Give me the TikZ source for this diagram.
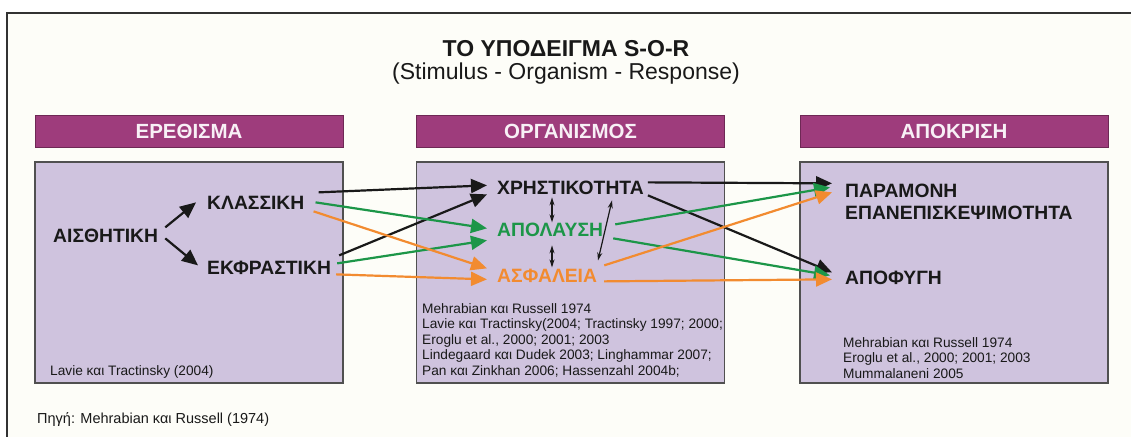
\documentclass[tikz,border=0pt]{standalone}
\usepackage{fontspec}
\setmainfont{Liberation Sans}
\usetikzlibrary{arrows.meta,calc}

\definecolor{paper}{RGB}{253,253,248}
\definecolor{frameline}{RGB}{50,50,50}
\definecolor{plum}{RGB}{158,60,124}
\definecolor{plumdark}{RGB}{110,40,85}
\definecolor{barwhite}{RGB}{248,240,246}
\definecolor{lav}{RGB}{207,195,222}
\definecolor{edge}{RGB}{80,80,80}
\definecolor{ink}{RGB}{25,25,25}
\definecolor{leaf}{RGB}{28,150,72}
\definecolor{amber}{RGB}{242,139,48}

\begin{document}
\begin{tikzpicture}[x=1pt,y=-1pt,
  hdr/.style={fill=plum, draw=plumdark, line width=0.8pt, minimum width=308pt,
    minimum height=32pt, inner sep=0pt, text=barwhite,
    font=\fontsize{20.5pt}{24pt}\selectfont\bfseries},
  panel/.style={fill=lav, draw=edge, line width=1.3pt, minimum width=308pt,
    minimum height=221pt, inner sep=0pt},
  term/.style={inner sep=0pt, anchor=base west, text=ink,
    font=\fontsize{19.3pt}{23pt}\selectfont\bfseries},
  cite/.style={inner sep=0pt, align=left, text=ink,
    font=\fontsize{13.7pt}{15.5pt}\selectfont},
  link/.style={line width=2.2pt, -{Triangle[length=16pt,width=14pt]}},
  twoway/.style={line width=1.2pt, draw=ink,
    {Stealth[length=8pt,width=5pt]}-{Stealth[length=8pt,width=5pt]}}
]
\useasboundingbox (0,0) rectangle (1131,437);
\fill[white] (0,0) rectangle (1131,437);
\fill[paper] (7,13) rectangle (1131,437);
\draw[frameline, line width=2.6pt] (1131,13) -- (7,13) -- (7,437);

% title
\node[anchor=base, text=ink, font=\fontsize{23pt}{27pt}\selectfont\bfseries]
  (title) at (566,56) {ΤΟ ΥΠΟΔΕΙΓΜΑ S-O-R};
\node[anchor=base, text=ink, font=\fontsize{23pt}{27pt}\selectfont]
  (subtitle) at (566,79) {(Stimulus - Organism - Response)};

% column headers and panels
\node[hdr] (hS) at (189,131) {ΕΡΕΘΙΣΜΑ};
\node[hdr] (hO) at (570.5,131) {ΟΡΓΑΝΙΣΜΟΣ};
\node[hdr] (hR) at (954,131) {ΑΠΟΚΡΙΣΗ};
\node[panel] (pS) at (189,272.5) {};
\node[panel] (pO) at (570.5,272.5) {};
\node[panel] (pR) at (954,272.5) {};

% terms
\node[term] (aisth) at (53,242) {ΑΙΣΘΗΤΙΚΗ};
\node[term] (klas) at (207,209) {ΚΛΑΣΣΙΚΗ};
\node[term] (ekfr) at (207,274) {ΕΚΦΡΑΣΤΙΚΗ};
\node[term] (xrist) at (497,194) {ΧΡΗΣΤΙΚΟΤΗΤΑ};
\node[term, text=leaf] (apol) at (497,236) {ΑΠΟΛΑΥΣΗ};
\node[term, text=amber] (asfal) at (497,282) {ΑΣΦΑΛΕΙΑ};
\node[term] (param) at (845,197) {ΠΑΡΑΜΟΝΗ};
\node[term] (epan) at (845,219) {ΕΠΑΝΕΠΙΣΚΕΨΙΜΟΤΗΤΑ};
\node[term] (apof) at (845,284) {ΑΠΟΦΥΓΗ};

% references
\node[cite, anchor=base west] (refS) at (50,375) {Lavie και Tractinsky (2004)};
\node[cite, anchor=north west] (refO) at (422,303.2) {Mehrabian και Russell 1974\\
  Lavie και Tractinsky(2004; Tractinsky 1997; 2000;\\
  Eroglu et al., 2000; 2001; 2003\\
  Lindegaard και Dudek 2003; Linghammar 2007;\\
  Pan και Zinkhan 2006; Hassenzahl 2004b;};
\node[cite, anchor=north west] (refR) at (843,337.2) {Mehrabian και Russell 1974\\
  Eroglu et al., 2000; 2001; 2003\\
  Mummalaneni 2005};
\node[cite, anchor=base west, font=\fontsize{14.5pt}{17pt}\selectfont]
  (source) at (37,423) {Πηγή: Mehrabian και Russell (1974)};

% stimulus branches
\draw[link, ink] ($(aisth.east)+(7,-8)$) -- ($(klas.west)+(-11,0)$);
\draw[link, ink] ($(aisth.east)+(7,3)$) -- ($(ekfr.west)+(-9,-2)$);

% stimulus -> organism
\draw[link, ink] ($(klas.east)+(14,-10)$) -- ($(xrist.west)+(-10,-2)$);
\draw[link, ink] ($(ekfr.east)+(8,-12)$) -- ($(xrist.west)+(-10,7)$);
\draw[link, leaf] ($(klas.east)+(11,0)$) -- ($(apol.west)+(-10,-1)$);
\draw[link, leaf] ($(ekfr.east)+(6,-4)$) -- ($(apol.west)+(-10,11)$);
\draw[link, amber] ($(klas.east)+(9,9)$) -- ($(asfal.west)+(-10,-7)$);
\draw[link, amber] ($(ekfr.east)+(5,7)$) -- ($(asfal.west)+(-10,4)$);

% links inside the organism
\draw[twoway] ($(xrist.south west)+(55,3)$) -- ($(apol.north west)+(55,0)$);
\draw[twoway] ($(apol.south west)+(55,9)$) -- ($(asfal.north west)+(55,-1)$);
\draw[twoway] ($(xrist.south west)+(115,6)$) -- ($(asfal.north west)+(101,-8)$);

% organism -> response
\draw[link, ink] ($(xrist.east)+(4,-5)$) -- ($(param.west)+(-13,-7)$);
\draw[link, ink] ($(xrist.east)+(4,8)$) -- ($(apof.west)+(-13,-5)$);
\draw[link, leaf] ($(apol.east)+(12,-5)$) -- ($(param.west)+(-15,-3)$);
\draw[link, leaf] ($(apol.east)+(10,9)$) -- ($(apof.west)+(-15,-2)$);
\draw[link, amber] ($(asfal.east)+(7,-10)$) -- ($(param.west)+(-13,2)$);
\draw[link, amber] ($(asfal.east)+(7,6)$) -- ($(apof.west)+(-13,2)$);
\end{tikzpicture}
\end{document}
